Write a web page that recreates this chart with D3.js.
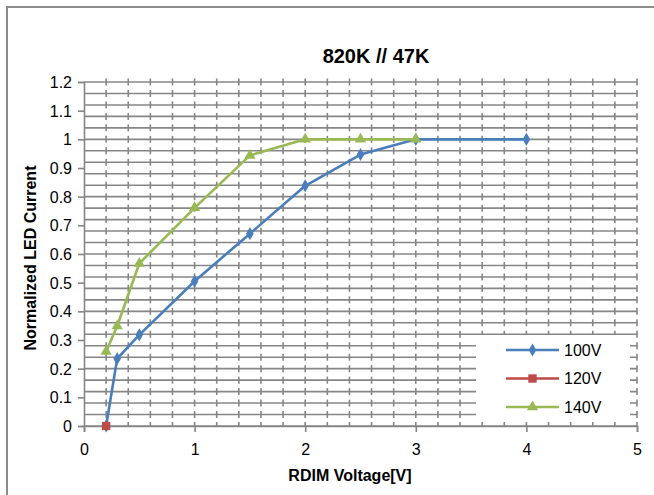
<!DOCTYPE html>
<html>
<head>
<meta charset="utf-8">
<script src="https://cdn.jsdelivr.net/npm/d3@7"></script>
<style>
  html, body { margin: 0; padding: 0; background: #fff; }
  svg { display: block; }
  text { font-family: "Liberation Sans", Arial, sans-serif; fill: #000; }
</style>
</head>
<body>
<div id="chart"></div>
<script>
// ---- data ----
const title = "820K // 47K";
const xTitle = "RDIM Voltage[V]";
const yTitle = "Normalized LED Current";
const xTicks = [0, 1, 2, 3, 4, 5];
const yTicks = [0, 0.1, 0.2, 0.3, 0.4, 0.5, 0.6, 0.7, 0.8, 0.9, 1.0, 1.1, 1.2];
const seriesNames = ["100V", "120V", "140V"];
const x100 = [0.2, 0.3, 0.5, 1, 1.5, 2, 2.5, 3, 4];
const y100 = [0, 0.235, 0.318, 0.505, 0.671, 0.838, 0.947, 1.0, 1.0];
const x120 = [0.2];
const y120 = [0];
const x140 = [0.2, 0.3, 0.5, 1, 1.5, 2, 2.5, 3];
const y140 = [0.26, 0.349, 0.567, 0.761, 0.944, 1.0, 1.0, 1.0];
const seriesColors = ["#4a7ebb", "#be4b48", "#98b954"];

// ---- layout ----
const W = 654, H = 495;
const svg = d3.select("#chart").append("svg").attr("width", W).attr("height", H);

const x = d3.scaleLinear().domain([0, 5]).range([84, 637]);
const y = d3.scaleLinear().domain([0, 1.2]).range([426, 82]);
const gridCol = "#868686";

// outer chart border
svg.append("rect").attr("x", 7).attr("y", 7).attr("width", W + 10).attr("height", H + 10)
  .attr("fill", "none").attr("stroke", "#8c8c8c").attr("stroke-width", 2);

// horizontal minor gridlines (0.04 step) with short vertical dashes at 0.2 step
const hLines = d3.range(0, 31).map(i => +(i * 0.04).toFixed(2));
const vMinor = d3.range(1, 26).map(i => +(i * 0.2).toFixed(1));
const grid = svg.append("g");
grid.selectAll("line.h").data(hLines).enter().append("line")
  .attr("x1", x(0)).attr("x2", x(5))
  .attr("y1", d => y(d)).attr("y2", d => y(d))
  .attr("stroke", gridCol).attr("stroke-width", 1.6);
const dashes = [];
hLines.forEach(h => vMinor.forEach(v => dashes.push([v, h])));
grid.selectAll("line.v").data(dashes).enter().append("line")
  .attr("x1", d => x(d[0])).attr("x2", d => x(d[0]))
  .attr("y1", d => y(d[1]) - (d[1] === 0 ? 4 : 3.5))
  .attr("y2", d => y(d[1]) + (d[1] === 0 ? 0 : 3.5))
  .attr("stroke", gridCol).attr("stroke-width", 1.6);

// y axis
const yAxis = d3.axisLeft(y).tickValues(yTicks).tickSize(6).tickPadding(6)
  .tickFormat(d => d3.format("~g")(d));
const gy = svg.append("g").attr("transform", `translate(${x(0)},0)`).call(yAxis);
gy.select(".domain").attr("stroke", gridCol).attr("stroke-width", 1.6);
gy.selectAll(".tick line").attr("stroke", gridCol).attr("stroke-width", 1.6);
gy.selectAll(".tick text").style("font-size", "16px").attr("font-family", "Liberation Sans, Arial, sans-serif").attr("dy", "0.35em");

// x axis
const xAxis = d3.axisBottom(x).tickValues(xTicks).tickSize(6).tickPadding(12)
  .tickFormat(d3.format("d"));
const gx = svg.append("g").attr("transform", `translate(0,${y(0)})`).call(xAxis);
gx.select(".domain").attr("stroke", gridCol).attr("stroke-width", 1.6);
gx.selectAll(".tick line").attr("stroke", gridCol).attr("stroke-width", 1.6);
gx.selectAll(".tick text").style("font-size", "16px").attr("font-family", "Liberation Sans, Arial, sans-serif");

// legend background (covers gridlines)
const leg = svg.append("g");
leg.append("rect").attr("x", 476).attr("y", 335).attr("width", 154).attr("height", 86).attr("fill", "#fff");

// series
const series = [
  { name: seriesNames[0], xs: x100, ys: y100, color: seriesColors[0], sym: d3.symbolDiamond, size: 50 },
  { name: seriesNames[1], xs: x120, ys: y120, color: seriesColors[1], sym: d3.symbolSquare, size: 70 },
  { name: seriesNames[2], xs: x140, ys: y140, color: seriesColors[2], sym: d3.symbolTriangle, size: 55 }
];
const line = d3.line().x(d => x(d[0])).y(d => y(d[1]));
series.forEach(s => {
  const pts = s.xs.map((v, i) => [v, s.ys[i]]);
  const g = svg.append("g");
  g.append("path").datum(pts).attr("d", line).attr("fill", "none")
    .attr("stroke", s.color).attr("stroke-width", 2.6).attr("stroke-linejoin", "round");
  g.selectAll("path.m").data(pts).enter().append("path")
    .attr("transform", d => `translate(${x(d[0])},${y(d[1])})`)
    .attr("d", d3.symbol().type(s.sym).size(s.size)).attr("fill", s.color);
});

// legend entries
const legY = [350, 378.5, 407];
series.forEach((s, i) => {
  leg.append("line").attr("x1", 506).attr("x2", 559).attr("y1", legY[i]).attr("y2", legY[i])
    .attr("stroke", s.color).attr("stroke-width", 2.6);
  leg.append("path").attr("transform", `translate(532.5,${legY[i]})`)
    .attr("d", d3.symbol().type(s.sym).size(s.size)).attr("fill", s.color);
  leg.append("text").attr("x", 564).attr("y", legY[i]).attr("dy", "0.36em")
    .style("font-size", "16px").text(s.name);
});

// titles
svg.append("text").attr("x", 376).attr("y", 63).attr("text-anchor", "middle")
  .style("font-size", "20px").style("font-weight", "bold").text(title);
svg.append("text").attr("x", 350).attr("y", 481).attr("text-anchor", "middle")
  .style("font-size", "16px").style("font-weight", "bold").text(xTitle);
svg.append("text").attr("transform", "translate(36,258) rotate(-90)").attr("text-anchor", "middle")
  .style("font-size", "16px").style("font-weight", "bold").text(yTitle);
</script>
</body>
</html>
